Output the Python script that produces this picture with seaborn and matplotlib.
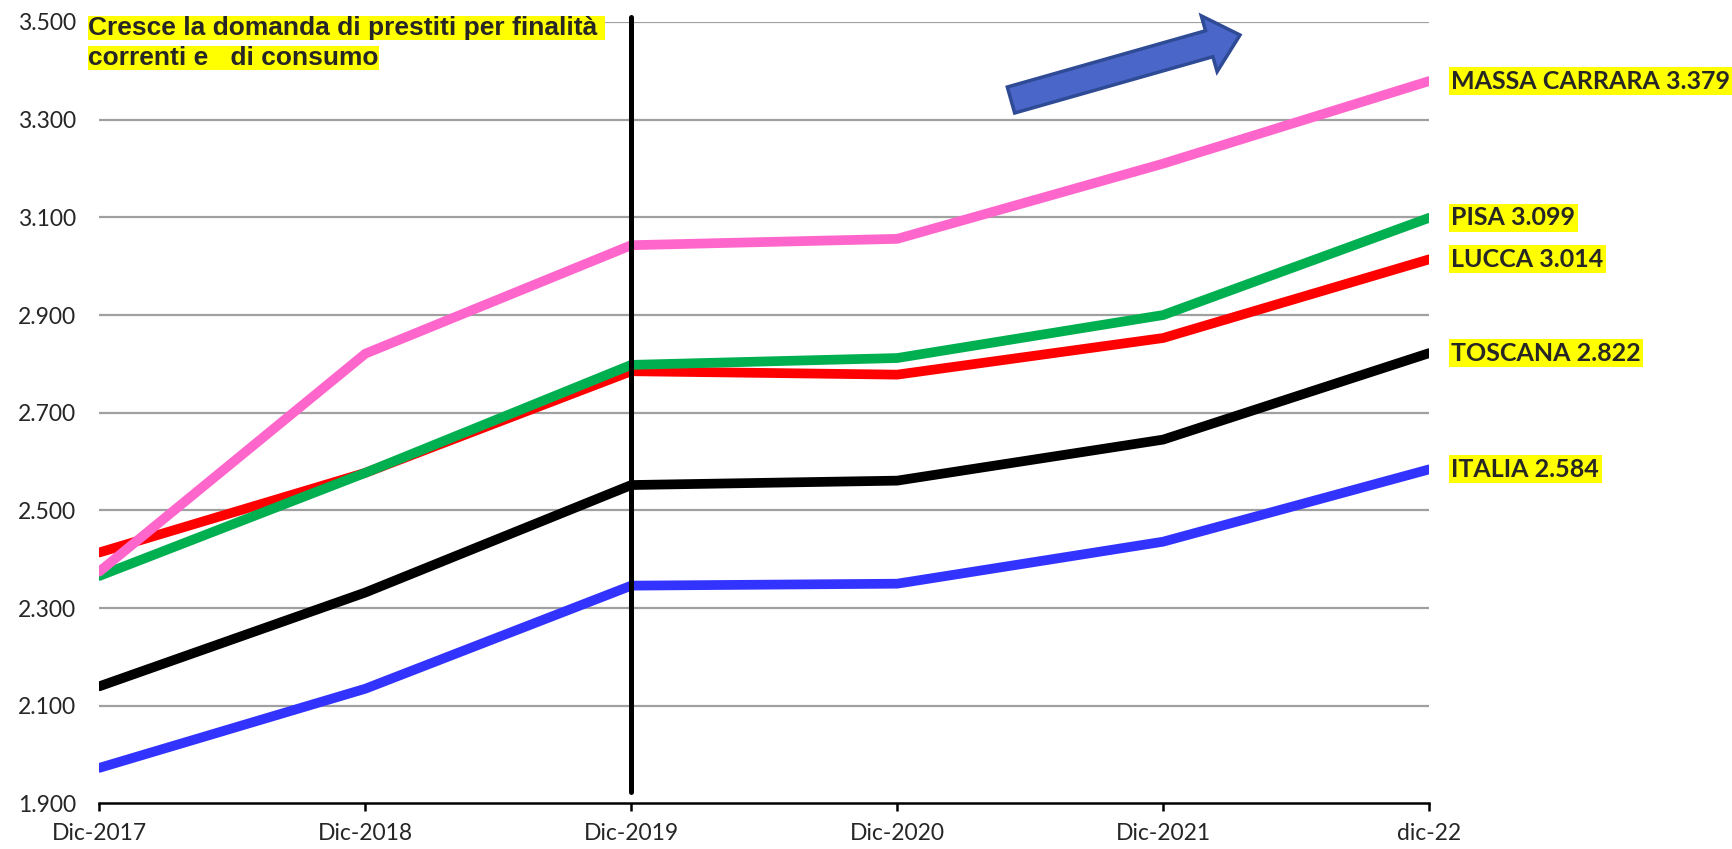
import pandas as pd
import seaborn as sns
import matplotlib.pyplot as plt
import matplotlib.patches as mpatches
from matplotlib.transforms import IdentityTransform
from matplotlib.ticker import FuncFormatter

# dati (euro, dicembre di ogni anno)
periods = ["Dic-2017", "Dic-2018", "Dic-2019", "Dic-2020", "Dic-2021", "dic-22"]
italia = [1973, 2135, 2346, 2350, 2436, 2584]
toscana = [2140, 2332, 2552, 2561, 2645, 2822]
lucca = [2414, 2577, 2785, 2778, 2853, 3014]
pisa = [2366, 2577, 2798, 2812, 2900, 3099]
massa = [2375, 2821, 3043, 3056, 3210, 3379]

series_names = ["ITALIA", "TOSCANA", "LUCCA", "PISA", "MASSA CARRARA"]
series_values = [italia, toscana, lucca, pisa, massa]
colors = ["#3333ff", "#000000", "#ff0000", "#00b050", "#ff66cc"]

title_lines = ["Cresce la domanda di prestiti per finalità ", "correnti e   di consumo"]


def fmt_it(v):
    return f"{int(round(v)):,}".replace(",", ".")


rows = []
for name, vals in zip(series_names, series_values):
    for i, v in enumerate(vals):
        rows.append({"periodo": i, "valore": v, "area": name})
df = pd.DataFrame(rows)

sns.set_style("white")
plt.rcParams["font.family"] = ["Lato", "DejaVu Sans"]

fig = plt.figure(figsize=(17.33, 8.49), dpi=100)
ax = fig.add_axes([0.0574, 0.0536, 0.7672, 0.9205])

sns.lineplot(data=df, x="periodo", y="valore", hue="area", hue_order=series_names,
             palette=colors, linewidth=7, sort=False, legend=False, ax=ax,
             solid_capstyle="round", zorder=3)

ax.set_xlim(0, len(periods) - 1)
ax.set_ylim(1900, 3500)
ax.set_yticks(range(1900, 3501, 200))
ax.yaxis.set_major_formatter(FuncFormatter(lambda v, p: fmt_it(v)))
ax.set_xticks(range(len(periods)))
ax.set_xticklabels(periods)
ax.set_xlabel("")
ax.set_ylabel("")

# griglia orizzontale grigia
for yv in range(2100, 3501, 200):
    ax.axhline(yv, color="#a0a0a0", lw=1.6, zorder=1)

for s in ["top", "right", "left"]:
    ax.spines[s].set_visible(False)
ax.spines["bottom"].set_color("black")
ax.spines["bottom"].set_linewidth(1.8)
ax.tick_params(axis="y", length=0, pad=17, labelsize=16.5)
ax.tick_params(axis="x", direction="out", length=6, width=1.8, color="black",
               pad=8, labelsize=16.5, bottom=True)

# linea verticale su Dic-2019
ax.axvline(2, ymin=0.0144, ymax=1.007, color="black", lw=3.6, clip_on=False, zorder=4)

# etichette a destra
for name, vals in zip(series_names, series_values):
    ax.annotate(f"{name} {fmt_it(vals[-1])}", xy=(len(periods) - 1, vals[-1]),
                xytext=(16, 0), textcoords="offset points", va="center", ha="left",
                fontsize=18, fontweight="bold", annotation_clip=False,
                bbox=dict(boxstyle="square,pad=0.1", fc="#ffff00", ec="none"))

# titolo evidenziato
for txt, yy in zip(title_lines, [0.9676, 0.9317]):
    fig.text(0.0508, yy, txt, fontsize=19, fontweight="bold", va="center", ha="left",
             family=["Liberation Sans", "DejaVu Sans"],
             bbox=dict(boxstyle="square,pad=0.0", fc="#ffff00", ec="none"))

# freccia blu decorativa
arrow = mpatches.FancyArrow(1011, 749, 229, 65, width=27, head_width=58, head_length=32,
                            length_includes_head=True, fc="#4a66c9", ec="#2f4b96",
                            lw=2.5, transform=IdentityTransform())
fig.add_artist(arrow)

fig.savefig("out.png", dpi=100)
